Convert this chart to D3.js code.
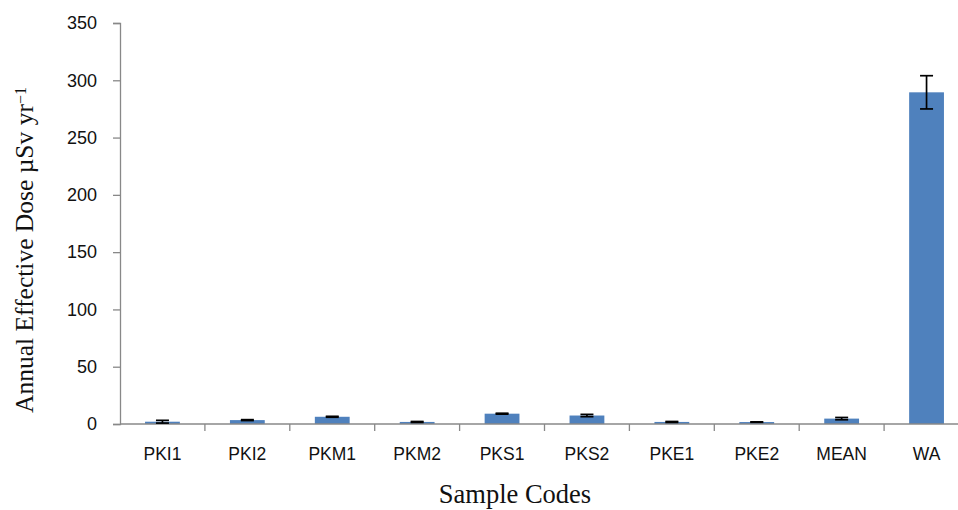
<!DOCTYPE html>
<html>
<head>
<meta charset="utf-8">
<script src="https://cdn.jsdelivr.net/npm/d3@7"></script>
<style>
  body { margin: 0; background: #fff; }
  svg { display: block; }
  .tick text { font-family: "Liberation Sans", Arial, sans-serif; fill: #111; }
  .axisTitle { font-family: "Liberation Serif", "Times New Roman", serif; fill: #111; }
</style>
</head>
<body>
<div id="chart"></div>
<script>
var codes = ["PKI1", "PKI2", "PKM1", "PKM2", "PKS1", "PKS2", "PKE1", "PKE2", "MEAN", "WA"];
var doses = [2.0, 3.4, 6.3, 1.8, 9.0, 7.4, 1.8, 1.7, 4.7, 289.5];
var errors = [1.2, 0.4, 0.4, 0.4, 0.4, 1.0, 0.4, 0.2, 1.0, 14.5];
var yTicks = [0, 50, 100, 150, 200, 250, 300, 350];

var svgWidth = 958;
var svgHeight = 510;

var margin = { top: 23, left: 120 };
var plotBottom = 424;

var svg = d3.select("#chart")
  .append("svg")
  .attr("width", svgWidth)
  .attr("height", svgHeight);

var data = codes.map(function(c, i) {
  return { code: c, dose: doses[i], err: errors[i] };
});

// band step ~85px, runs a little past the right edge like the original
var xScale = d3.scaleBand()
  .domain(codes)
  .range([margin.left, margin.left + 849])
  .paddingInner(0.59)
  .paddingOuter(0.295);

var yScale = d3.scaleLinear()
  .domain([0, 350])
  .range([plotBottom, margin.top]);

// y axis
var leftAxis = d3.axisLeft(yScale)
  .tickValues(yTicks)
  .tickSize(7)
  .tickPadding(16);

var yAxisG = svg.append("g")
  .attr("transform", `translate(${margin.left}, 0)`)
  .call(leftAxis);
yAxisG.select(".domain").attr("stroke", "#888").attr("stroke-width", 1.3);
yAxisG.selectAll(".tick line").attr("stroke", "#888").attr("stroke-width", 1.3);
yAxisG.selectAll(".tick text").style("font-size", "18px");

// bars
svg.selectAll(".bar")
  .data(data)
  .enter()
  .append("rect")
  .attr("class", "bar")
  .attr("x", d => xScale(d.code))
  .attr("width", xScale.bandwidth())
  .attr("y", d => yScale(d.dose))
  .attr("height", d => plotBottom - yScale(d.dose))
  .attr("fill", "#4F81BD");

// x axis (category boundary ticks)
var bandStep = xScale.step();
var xAxisG = svg.append("g");
xAxisG.append("line")
  .attr("x1", margin.left)
  .attr("x2", svgWidth)
  .attr("y1", plotBottom)
  .attr("y2", plotBottom)
  .attr("stroke", "#888")
  .attr("stroke-width", 1.3);

xAxisG.selectAll(".xtick")
  .data(codes)
  .enter()
  .append("line")
  .attr("class", "xtick")
  .attr("x1", (d, i) => margin.left + (i + 1) * bandStep)
  .attr("x2", (d, i) => margin.left + (i + 1) * bandStep)
  .attr("y1", plotBottom)
  .attr("y2", plotBottom + 7)
  .attr("stroke", "#888")
  .attr("stroke-width", 1.3);

xAxisG.selectAll(".xlabel")
  .data(codes)
  .enter()
  .append("text")
  .attr("class", "xlabel")
  .attr("x", d => xScale(d) + xScale.bandwidth() / 2)
  .attr("y", 460)
  .attr("text-anchor", "middle")
  .style("font-family", "'Liberation Sans', Arial, sans-serif")
  .style("font-size", "17.5px")
  .style("fill", "#111")
  .text(d => d);

// error bars
var errG = svg.append("g")
  .attr("stroke", "#000")
  .attr("stroke-width", 1.7);

data.forEach(function(d) {
  var cx = xScale(d.code) + xScale.bandwidth() / 2;
  var top = yScale(d.dose + d.err);
  var bot = yScale(d.dose - d.err);
  errG.append("line").attr("x1", cx).attr("x2", cx).attr("y1", top).attr("y2", bot);
  errG.append("line").attr("x1", cx - 6.5).attr("x2", cx + 6.5).attr("y1", top).attr("y2", top);
  errG.append("line").attr("x1", cx - 6.5).attr("x2", cx + 6.5).attr("y1", bot).attr("y2", bot);
});

// axis titles
var yTitle = svg.append("text")
  .attr("class", "axisTitle")
  .attr("transform", "translate(33, 250) rotate(-90)")
  .attr("text-anchor", "middle")
  .style("font-size", "25.5px");
yTitle.append("tspan").text("Annual Effective Dose \u00b5Sv yr");
yTitle.append("tspan").attr("dy", "-0.45em").style("font-size", "16px").text("\u22121");

svg.append("text")
  .attr("class", "axisTitle")
  .attr("x", 515)
  .attr("y", 503)
  .attr("text-anchor", "middle")
  .style("font-size", "26.5px")
  .text("Sample Codes");
</script>
</body>
</html>
